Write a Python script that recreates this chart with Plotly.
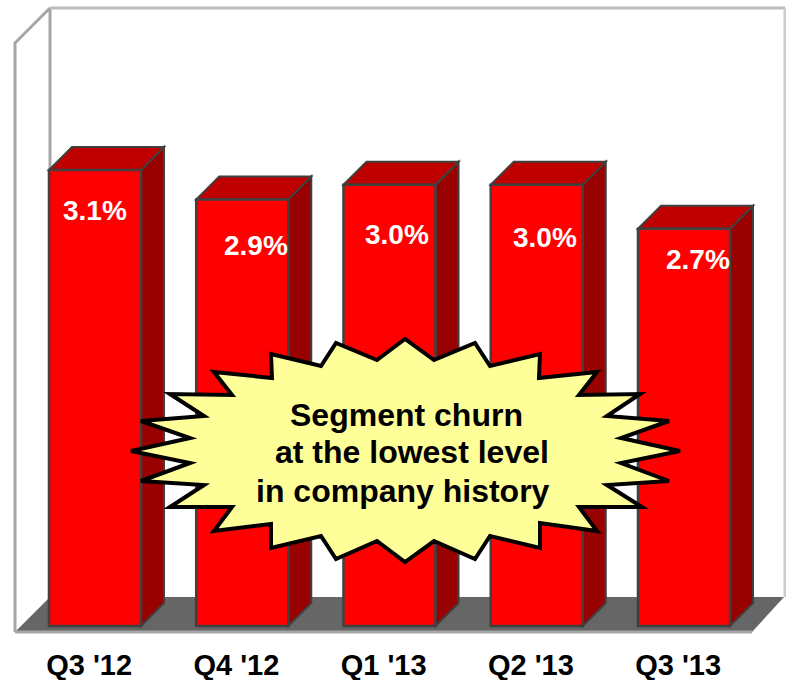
import plotly.graph_objects as go

# Data
categories = ["Q3 '12", "Q4 '12", "Q1 '13", "Q2 '13", "Q3 '13"]
churn = [3.1, 2.9, 3.0, 3.0, 2.7]
value_labels = ["3.1%", "2.9%", "3.0%", "3.0%", "2.7%"]
callout_lines = ["Segment churn", "at the lowest level", "in company history"]

# Label placement (pixels relative to the bar's top centre)
label_dx = [0, 14, 7, 8, 14]
label_dy = [41, 46, 50, 53, 31]
tick_shift = -0.04

# Scale: pixels <-> data
PX_X = 147.25
PX_Y = 147.1
X0 = 95
Y0 = 626
W, H, BOTTOM = 786, 680, 35
def X(p): return (p - X0) / PX_X
def Y(p): return (Y0 - p) / PX_Y
def path(pts):
    return "M" + " L".join(f"{X(a):.4f},{Y(b):.4f}" for a, b in pts) + " Z"

bar_w = 0.625
depth_x = 23 / PX_X
depth_y = 23 / PX_Y
EDGE = "#404040"
idx = list(range(len(categories)))

shapes = []
# room frame and floor
shapes.append(dict(type="path", layer="below", xref="x", yref="y",
                   path=path([(15, 632), (752, 632), (784, 597), (50, 597)]),
                   fillcolor="#666666", line=dict(width=0)))
for pts, c in [([(15, 632), (752, 632)], "#a6a6a6"),
               ([(15, 632), (15, 43), (50, 8)], "#a6a6a6"),
               ([(50, 8), (50, 597)], "#a6a6a6"),
               ([(50, 8), (785, 8)], "#bbbbbb"),
               ([(785, 8), (785, 597)], "#cccccc")]:
    shapes.append(dict(type="path", layer="below", xref="x", yref="y",
                       path="M" + " L".join(f"{X(a):.4f},{Y(b):.4f}" for a, b in pts),
                       line=dict(color=c, width=3)))
# bar depth faces
for i, v in zip(idx, churn):
    l, r = i - bar_w / 2, i + bar_w / 2
    shapes.append(dict(type="path", layer="below", xref="x", yref="y",
                       path=f"M{r},0 L{r+depth_x},{depth_y} L{r+depth_x},{v+depth_y} L{r},{v} Z",
                       fillcolor="#990000", line=dict(color=EDGE, width=2)))
    shapes.append(dict(type="path", layer="below", xref="x", yref="y",
                       path=f"M{l},{v} L{l+depth_x},{v+depth_y} L{r+depth_x},{v+depth_y} L{r},{v} Z",
                       fillcolor="#BF0000", line=dict(color=EDGE, width=2)))

# callout burst
burst = [(131,451),(190,438),(141,421),(204,416),(170,394),(232,395),(214,372),(272,378),
         (271,354),(321,366),(336,343),(377,360),(405,339),(434,360),(475,343),(490,366),
         (540,354),(539,378),(597,372),(579,395),(640,394),(607,416),(669,421),(621,438),
         (680,451),(621,463),(669,481),(607,485),(642,507),(579,507),(597,531),(540,523),
         (540,548),(490,536),(475,559),(434,541),(405,562),(377,541),(336,559),(321,536),
         (271,548),(271,524),(214,531),(232,507),(170,507),(204,485),(141,481),(190,463)]
shapes.append(dict(type="path", layer="above", xref="x", yref="y", path=path(burst),
                   fillcolor="#FFFF99", line=dict(color="black", width=4)))

annotations = []
for i, v, t, dx, dy in zip(idx, churn, value_labels, label_dx, label_dy):
    annotations.append(dict(x=i, y=v, xref="x", yref="y", text=f"<b>{t}</b>", showarrow=False,
                            xshift=dx, yshift=-dy, xanchor="center", yanchor="middle",
                            font=dict(family="Liberation Sans", size=28, color="white")))
for t, lx, ly in zip(callout_lines, [289, 274, 255], [415, 452, 491]):
    annotations.append(dict(x=X(lx), y=Y(ly), xref="x", yref="y", text=f"<b>{t}</b>", showarrow=False,
                            xanchor="left", yanchor="middle", borderpad=0,
                            font=dict(family="Liberation Sans", size=32, color="black")))

fig = go.Figure(go.Bar(x=idx, y=churn, width=bar_w,
                       marker=dict(color="#FF0000", line=dict(color=EDGE, width=2.5)),
                       hoverinfo="skip"))
fig.update_layout(
    width=W, height=H, autosize=False, showlegend=False,
    margin=dict(l=0, r=0, t=0, b=BOTTOM, pad=0),
    paper_bgcolor="white", plot_bgcolor="white",
    shapes=shapes, annotations=annotations,
    xaxis=dict(range=[X(0), X(W)], tickmode="array", automargin=False,
               tickvals=[i + tick_shift for i in idx], ticktext=[f"<b>{c}</b>" for c in categories],
               showgrid=False, zeroline=False, showline=False, ticks="", ticklen=0,
               tickfont=dict(family="Liberation Sans", size=29, color="black")),
    yaxis=dict(range=[Y(H - BOTTOM), Y(0)], visible=False, showgrid=False, zeroline=False, automargin=False),
)
fig.write_html("out.html", config={"displayModeBar": False},
               post_script="document.body.style.margin='0';document.body.style.overflow='hidden';")
